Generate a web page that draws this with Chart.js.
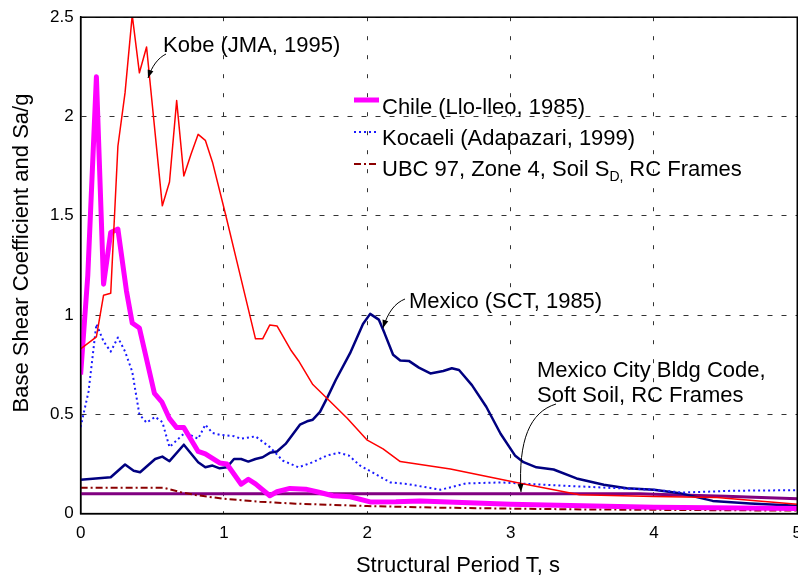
<!DOCTYPE html>
<html>
<head>
<meta charset="utf-8">
<script src="https://cdn.jsdelivr.net/npm/chart.js@4"></script>
<style>
html,body{margin:0;padding:0;background:#fff;overflow:hidden;}
#wrap{position:absolute;left:0;top:0;width:812px;height:577px;}
</style>
</head>
<body>
<div id="wrap"><canvas id="c" width="812" height="577"></canvas></div>
<script>
// ---- data ----
const kobeT  = [0,0.11,0.16,0.21,0.26,0.31,0.36,0.41,0.46,0.57,0.62,0.67,0.72,0.77,0.82,0.87,0.92,1.01,1.09,1.22,1.27,1.32,1.37,1.47,1.52,1.62,1.72,1.86,2.0,2.11,2.23,2.58,3.04,3.48,4.0,4.44,5.0];
const kobeSa = [0.83,0.89,1.10,1.11,1.85,2.12,2.51,2.22,2.35,1.55,1.67,2.08,1.70,1.81,1.91,1.88,1.77,1.51,1.27,0.88,0.88,0.95,0.945,0.82,0.77,0.65,0.58,0.48,0.37,0.326,0.262,0.225,0.157,0.095,0.086,0.081,0.047];

const chileT  = [0,0.05,0.11,0.16,0.21,0.26,0.32,0.36,0.41,0.515,0.566,0.62,0.67,0.72,0.82,0.87,0.97,1.02,1.12,1.17,1.22,1.32,1.37,1.46,1.57,1.67,1.76,1.88,2.02,2.2,2.37,3.0,4.0,5.0];
const chileSa = [0.70,1.20,2.20,1.155,1.416,1.433,1.12,0.96,0.935,0.605,0.563,0.478,0.433,0.433,0.313,0.301,0.255,0.25,0.148,0.173,0.15,0.09,0.11,0.127,0.123,0.106,0.09,0.085,0.059,0.06,0.064,0.047,0.032,0.026];

const kocaeliT  = [0,0.055,0.11,0.16,0.21,0.26,0.31,0.36,0.41,0.46,0.52,0.57,0.62,0.67,0.72,0.77,0.82,0.87,0.92,0.97,1.07,1.12,1.22,1.32,1.41,1.52,1.62,1.72,1.80,1.87,1.95,2.07,2.16,2.28,2.51,2.69,2.93,3.27,3.74,4.0,4.2,4.55,5.0];
const kocaeliSa = [0.436,0.614,0.955,0.867,0.816,0.887,0.816,0.715,0.499,0.458,0.487,0.461,0.335,0.369,0.402,0.394,0.377,0.448,0.406,0.397,0.39,0.377,0.389,0.335,0.267,0.233,0.259,0.293,0.306,0.293,0.242,0.194,0.157,0.149,0.12,0.152,0.157,0.144,0.128,0.12,0.106,0.115,0.118];

const ubcT  = [0,0.58,0.7,0.8,0.9,1.0,1.25,1.5,2.0,2.5,3.0,3.5,4.0,4.5,5.0];
const ubcV  = [0.13,0.13,0.108,0.094,0.084,0.075,0.06,0.05,0.038,0.03,0.025,0.021,0.019,0.017,0.015];

const mexT  = [0,0.21,0.31,0.37,0.415,0.52,0.57,0.62,0.72,0.82,0.87,0.92,0.97,1.02,1.07,1.12,1.17,1.22,1.27,1.32,1.37,1.43,1.53,1.58,1.62,1.67,1.72,1.78,1.88,1.97,2.02,2.08,2.12,2.18,2.23,2.29,2.36,2.44,2.53,2.59,2.64,2.73,2.83,2.93,3.03,3.09,3.18,3.30,3.46,3.65,3.81,4.0,4.18,4.41,4.67,5.0];
const mexSa = [0.171,0.183,0.247,0.216,0.208,0.275,0.287,0.264,0.347,0.259,0.233,0.242,0.228,0.233,0.275,0.275,0.262,0.275,0.284,0.306,0.313,0.351,0.448,0.465,0.473,0.512,0.583,0.673,0.808,0.955,1.006,0.977,0.909,0.80,0.771,0.769,0.735,0.706,0.718,0.732,0.723,0.647,0.538,0.402,0.293,0.259,0.233,0.222,0.177,0.145,0.128,0.12,0.103,0.064,0.051,0.039];

const mcbcT = [0,3.9,4.0,4.5,5.0];
const mcbcV = [0.1,0.1,0.097,0.087,0.075];

const xTickLabels = ['0','1','2','3','4','5'];
const yTickLabels = ['0','0.5','1','1.5','2','2.5'];

const seriesNames = ['Kobe (JMA, 1995)','Chile (Llo-lleo, 1985)','Kocaeli (Adapazari, 1999)','UBC 97, Zone 4, Soil SD, RC Frames','Mexico (SCT, 1985)','Mexico City Bldg Code, Soft Soil, RC Frames'];

function pts(xs, ys){ return xs.map((x,i)=>({x:x, y:ys[i]})); }

const FONT = '"Liberation Sans", Arial, Helvetica, sans-serif';

const decorPlugin = {
  id:'decor',
  afterDraw(chart){
    const ctx = chart.ctx, a = chart.chartArea;
    ctx.save();
    // frame
    ctx.strokeStyle = '#000'; ctx.lineWidth = 1.5; ctx.setLineDash([]);
    ctx.strokeRect(a.left, a.top, a.right - a.left, a.bottom - a.top);

    // axis titles
    ctx.fillStyle = '#000';
    ctx.font = '22px ' + FONT;
    ctx.textAlign = 'center'; ctx.textBaseline = 'middle';
    ctx.fillText('Structural Period T, s', 458, 566);
    ctx.save();
    ctx.translate(22, 253); ctx.rotate(-Math.PI/2);
    ctx.fillText('Base Shear Coefficient and Sa/g', 0, 0);
    ctx.restore();

    // legend
    const lx0 = 354, lx1 = 379, tx = 382;
    const rows = [
      {y:100, ty:108, color:'#ff00ff', w:5, dash:[], text:'Chile (Llo-lleo, 1985)'},
      {y:132, ty:139, color:'#1a1aff', w:2, dash:[2,3], text:'Kocaeli (Adapazari, 1999)'},
      {y:164, ty:170, color:'#8b0000', w:2, dash:[7,3,2,3], text:null}
    ];
    ctx.textAlign = 'left'; ctx.textBaseline = 'middle';
    rows.forEach(r=>{
      ctx.beginPath(); ctx.strokeStyle = r.color; ctx.lineWidth = r.w; ctx.setLineDash(r.dash);
      ctx.moveTo(lx0, r.y); ctx.lineTo(lx1, r.y); ctx.stroke();
      ctx.setLineDash([]);
      ctx.fillStyle = '#000'; ctx.font = '22px ' + FONT;
      if (r.text) { ctx.fillText(r.text, tx, r.ty); }
      else {
        let x = tx;
        const t1 = 'UBC 97, Zone 4, Soil S';
        ctx.fillText(t1, x, r.ty); x += ctx.measureText(t1).width;
        ctx.font = '14px ' + FONT;
        ctx.fillText('D', x, r.ty + 7); x += ctx.measureText('D').width;
        ctx.fillText(',', x, r.ty + 7); x += ctx.measureText(', ').width;
        ctx.font = '22px ' + FONT;
        ctx.fillText('RC Frames', x + 2, r.ty);
      }
    });

    // annotations
    ctx.fillStyle = '#000'; ctx.font = '22px ' + FONT; ctx.textAlign = 'left'; ctx.textBaseline = 'middle';
    ctx.fillText('Kobe (JMA, 1995)', 163, 46);
    ctx.fillText('Mexico (SCT, 1985)', 409, 302);
    ctx.fillText('Mexico City Bldg Code,', 537, 371);
    ctx.fillText('Soft Soil, RC Frames', 537, 396);

    function arrow(p0, c1, c2, p1){
      ctx.beginPath(); ctx.strokeStyle = '#000'; ctx.lineWidth = 1; ctx.setLineDash([]);
      ctx.moveTo(p0[0], p0[1]); ctx.bezierCurveTo(c1[0], c1[1], c2[0], c2[1], p1[0], p1[1]); ctx.stroke();
      const ang = Math.atan2(p1[1]-c2[1], p1[0]-c2[0]);
      const L = 8, W = 3;
      ctx.beginPath();
      ctx.moveTo(p1[0], p1[1]);
      ctx.lineTo(p1[0] - L*Math.cos(ang) + W*Math.sin(ang), p1[1] - L*Math.sin(ang) - W*Math.cos(ang));
      ctx.lineTo(p1[0] - L*Math.cos(ang) - W*Math.sin(ang), p1[1] - L*Math.sin(ang) + W*Math.cos(ang));
      ctx.closePath(); ctx.fillStyle = '#000'; ctx.fill();
    }
    arrow([166,54],[158,58],[152,66],[148,78]);
    arrow([405,299],[395,303],[388,312],[383,328]);
    arrow([556,404],[530,412],[518,440],[521,492]);
    ctx.restore();
  }
};

new Chart(document.getElementById('c'), {
  type:'line',
  data:{
    datasets:[
      {label:seriesNames[0], data:pts(kobeT,kobeSa), borderColor:'#ff0000', borderWidth:1.5},
      {label:seriesNames[1], data:pts(chileT,chileSa), borderColor:'#ff00ff', borderWidth:5},
      {label:seriesNames[2], data:pts(kocaeliT,kocaeliSa), borderColor:'#1a1aff', borderWidth:2, borderDash:[2,3]},
      {label:seriesNames[3], data:pts(ubcT,ubcV), borderColor:'#8b0000', borderWidth:2, borderDash:[7,3,2,3]},
      {label:seriesNames[4], data:pts(mexT,mexSa), borderColor:'#000080', borderWidth:2.5},
      {label:seriesNames[5], data:pts(mcbcT,mcbcV), borderColor:'#800080', borderWidth:3}
    ]
  },
  options:{
    responsive:false,
    animation:false,
    devicePixelRatio:1,
    elements:{point:{radius:0}, line:{tension:0, fill:false, borderJoinStyle:'round'}},
    layout:{padding:{left:43, right:0, top:11, bottom:23}},
    plugins:{legend:{display:false}, tooltip:{enabled:false}},
    scales:{
      x:{type:'linear', min:0, max:5,
         ticks:{stepSize:1, padding:10, color:'#000', font:{family:FONT, size:17},
                callback:(v)=>xTickLabels[Math.round(v)] },
         grid:{color:'#333', lineWidth:1, drawTicks:false},
         border:{display:true, color:'#000', width:1.5, dash:[4,15]}},
      y:{type:'linear', min:0, max:2.5,
         ticks:{stepSize:0.5, padding:7, color:'#000', font:{family:FONT, size:17},
                callback:(v)=>yTickLabels[Math.round(v*2)] },
         grid:{color:'#333', lineWidth:1, drawTicks:false},
         border:{display:true, color:'#000', width:1.5, dash:[5,9]}}
    }
  },
  plugins:[decorPlugin]
});
</script>
</body>
</html>
